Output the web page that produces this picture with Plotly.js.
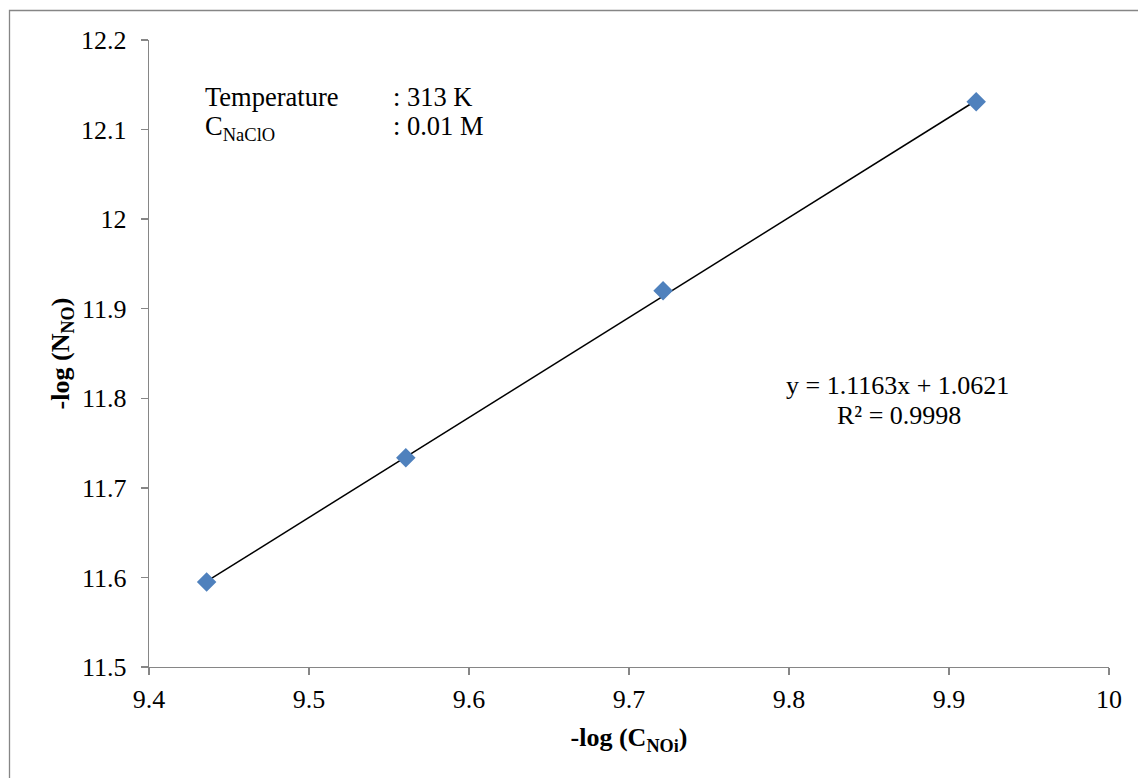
<!DOCTYPE html>
<html>
<head>
<meta charset="utf-8">
<script src="https://cdn.plot.ly/plotly-3.0.1.min.js"></script>
<style>
html,body{margin:0;padding:0;background:#fff;}
#chart{width:1138px;height:778px;}
</style>
</head>
<body>
<div id="chart"></div>
<script>
// Data
const logC = [9.436, 9.5605, 9.7213, 9.917];
const logN = [11.595, 11.7335, 11.92, 12.131];
const slope = 1.1163;
const intercept = 1.0621;
const r2 = 0.9998;
const xTicks = [9.4, 9.5, 9.6, 9.7, 9.8, 9.9, 10];
const yTicks = [11.5, 11.6, 11.7, 11.8, 11.9, 12, 12.1, 12.2];

const W = 1138, H = 778;
const M = {l: 149, r: 29, t: 40, b: 111};
const PW = W - M.l - M.r, PH = H - M.t - M.b;
const px = x => (x - M.l) / PW;
const py = y => (H - M.b - y) / PH;

const xmin = Math.min(...logC), xmax = Math.max(...logC);
const trendX = [xmin, xmax];
const trendY = trendX.map(v => slope * v + intercept);

const font = "Liberation Serif";
const axisColor = '#868686';

const traces = [
  {x: trendX, y: trendY, mode: 'lines', line: {color: '#000', width: 1.5}, hoverinfo: 'skip', showlegend: false},
  {x: logC, y: logN, mode: 'markers', marker: {symbol: 'diamond', size: 15, color: '#4F81BD', line: {width: 0}}, showlegend: false}
];

const layout = {
  width: W, height: H,
  margin: M,
  paper_bgcolor: '#fff', plot_bgcolor: '#fff',
  font: {family: font, size: 26, color: '#000'},
  showlegend: false,
  xaxis: {
    range: [9.4, 10], tickvals: xTicks, ticktext: xTicks.map(String),
    showgrid: false, zeroline: false, showline: true, linecolor: axisColor, linewidth: 1.3,
    ticks: 'outside', ticklen: 7, tickcolor: axisColor, tickwidth: 1.3,
    tickfont: {family: font, size: 26, color: '#000'}, ticklabelstandoff: 1,
    title: {text: '<b>-log (C<sub>NOi</sub>)</b>', font: {family: font, size: 26, color: '#000'}, standoff: 15}
  },
  yaxis: {
    range: [11.5, 12.2], tickvals: yTicks, ticktext: yTicks.map(String),
    showgrid: false, zeroline: false, showline: true, linecolor: axisColor, linewidth: 1.3,
    ticks: 'outside', ticklen: 7, tickcolor: axisColor, tickwidth: 1.3,
    tickfont: {family: font, size: 26, color: '#000'}, ticklabelstandoff: 9,
    title: {text: '<b>-log (N<sub>NO</sub>)</b>', font: {family: font, size: 26, color: '#000'}, standoff: 4}
  },
  shapes: [
    {type: 'rect', xref: 'paper', yref: 'paper', x0: px(9.5), y0: py(800), x1: px(1160), y1: py(10.5),
     line: {color: axisColor, width: 1.3}, fillcolor: 'rgba(0,0,0,0)', layer: 'below'}
  ],
  annotations: [
    {xref: 'paper', yref: 'paper', x: px(203), y: py(97), xanchor: 'left', yanchor: 'middle', text: 'Temperature', showarrow: false, font: {family: font, size: 26.5}},
    {xref: 'paper', yref: 'paper', x: px(391), y: py(97), xanchor: 'left', yanchor: 'middle', text: ': 313 K', showarrow: false, font: {family: font, size: 26.5}},
    {xref: 'paper', yref: 'paper', x: px(203), y: py(128), xanchor: 'left', yanchor: 'middle', text: 'C<sub>NaClO</sub>', showarrow: false, font: {family: font, size: 26.5}},
    {xref: 'paper', yref: 'paper', x: px(391), y: py(126), xanchor: 'left', yanchor: 'middle', text: ': 0.01 M', showarrow: false, font: {family: font, size: 26.5}},
    {xref: 'paper', yref: 'paper', x: px(897), y: py(385), xanchor: 'center', yanchor: 'middle',
     text: 'y = ' + slope.toFixed(4) + 'x + ' + intercept.toFixed(4), showarrow: false, font: {family: font, size: 26}},
    {xref: 'paper', yref: 'paper', x: px(899), y: py(416), xanchor: 'center', yanchor: 'middle',
     text: 'R² = ' + r2.toFixed(4), showarrow: false, font: {family: font, size: 26}}
  ]
};

Plotly.newPlot('chart', traces, layout, {displayModeBar: false, staticPlot: true});
</script>
</body>
</html>
